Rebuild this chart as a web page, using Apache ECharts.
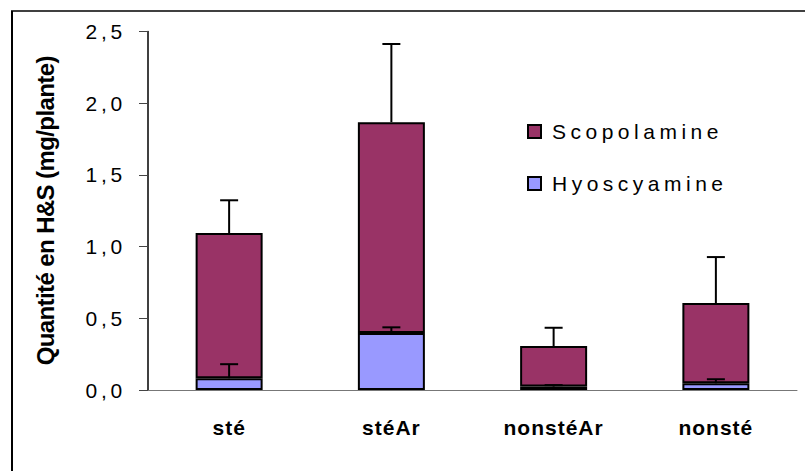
<!DOCTYPE html>
<html>
<head>
<meta charset="utf-8">
<script src="https://cdn.jsdelivr.net/npm/echarts@6/dist/echarts.min.js"></script>
<style>
html,body{margin:0;padding:0;background:#fff;}
#c{width:805px;height:471px;}
</style>
</head>
<body>
<div id="c"></div>
<script>
const categories = ['sté', 'stéAr', 'nonstéAr', 'nonsté'];
const hyoscyamine = [0.082, 0.397, 0.024, 0.047];
const scopolamine = [1.013, 1.471, 0.282, 0.559];
const hyoscyamineErr = [0.098, 0.040, 0.010, 0.028];
const scopolamineErr = [0.228, 0.545, 0.128, 0.321];
const seriesNames = ['Scopolamine', 'Hyoscyamine'];
const yAxisTitle = 'Quantité en H&S (mg/plante)';

const hyoErrData = categories.map((c, i) => [i, hyoscyamine[i], hyoscyamine[i] + hyoscyamineErr[i]]);
const scoErrData = categories.map((c, i) => {
  const top = hyoscyamine[i] + scopolamine[i];
  return [i, top, top + scopolamineErr[i]];
});

function errRender(params, api) {
  const b = api.coord([api.value(0), api.value(1)]);
  const t = api.coord([api.value(0), api.value(2)]);
  const hw = 9;
  return {
    type: 'group',
    children: [
      {type: 'line', shape: {x1: b[0], y1: b[1], x2: b[0], y2: t[1]}, style: {stroke: '#000', lineWidth: 2}},
      {type: 'line', shape: {x1: b[0] - hw, y1: t[1], x2: b[0] + hw, y2: t[1]}, style: {stroke: '#000', lineWidth: 2}}
    ]
  };
}

const chart = echarts.init(document.getElementById('c'), null, {renderer: 'svg'});
const FONT = '"Liberation Sans", Arial, sans-serif';
chart.setOption({
  animation: false,
  backgroundColor: '#fff',
  grid: {left: 148, right: 8, top: 31.5, bottom: 81},
  legend: {
    orient: 'vertical',
    left: 527,
    top: 121,
    padding: 0,
    itemWidth: 13,
    itemHeight: 13,
    itemGap: 31,
    icon: 'rect',
    data: seriesNames,
    textStyle: {fontFamily: FONT, fontSize: 21, color: '#000', padding: [0, 0, 0, 6]}
  },
  xAxis: {
    type: 'category',
    data: categories,
    axisLine: {lineStyle: {color: '#777', width: 1}},
    axisTick: {length: 8, lineStyle: {color: '#777'}},
    axisLabel: {fontFamily: FONT, fontSize: 21, fontWeight: 'bold', color: '#000', margin: 27}
  },
  yAxis: {
    type: 'value',
    min: 0, max: 2.5, interval: 0.5,
    name: yAxisTitle,
    nameLocation: 'middle',
    nameGap: 91,
    nameTextStyle: {fontFamily: FONT, fontSize: 24, fontWeight: 'bold', color: '#000'},
    splitLine: {show: false},
    axisLine: {show: true, lineStyle: {color: '#000', width: 1.5}},
    axisTick: {show: true, length: 9, lineStyle: {color: '#444'}},
    axisLabel: {fontFamily: FONT, fontSize: 21, color: '#000', margin: 22,
      formatter: v => v.toFixed(1).replace('.', ',')}
  },
  graphic: [
    {type: 'line', shape: {x1: 11, y1: 11, x2: 805, y2: 11}, style: {stroke: '#404040', lineWidth: 2}, z: 10},
    {type: 'line', shape: {x1: 12, y1: 11, x2: 12, y2: 471}, style: {stroke: '#000', lineWidth: 2}, z: 10}
  ],
  series: [
    {name: 'Hyoscyamine', type: 'bar', stack: 'total', data: hyoscyamine, barWidth: 67,
      itemStyle: {color: '#9999FF', borderColor: '#000', borderWidth: 2}},
    {name: 'Scopolamine', type: 'bar', stack: 'total', data: scopolamine, barWidth: 67,
      itemStyle: {color: '#993366', borderColor: '#000', borderWidth: 2}},
    {type: 'custom', renderItem: errRender, data: hyoErrData, z: 5, silent: true},
    {type: 'custom', renderItem: errRender, data: scoErrData, z: 5, silent: true}
  ]
});

// character spacing like the original figure
const spacing = {};
['0,0','0,5','1,0','1,5','2,0','2,5'].forEach(s => spacing[s] = 3.8);
categories.forEach(s => spacing[s] = 1);
seriesNames.forEach(s => spacing[s] = 4.5);
spacing[yAxisTitle] = -0.6;
document.querySelectorAll('#c text').forEach(t => {
  const k = t.textContent;
  if (spacing[k]) t.setAttribute('letter-spacing', spacing[k] + 'px');
});
</script>
</body>
</html>
